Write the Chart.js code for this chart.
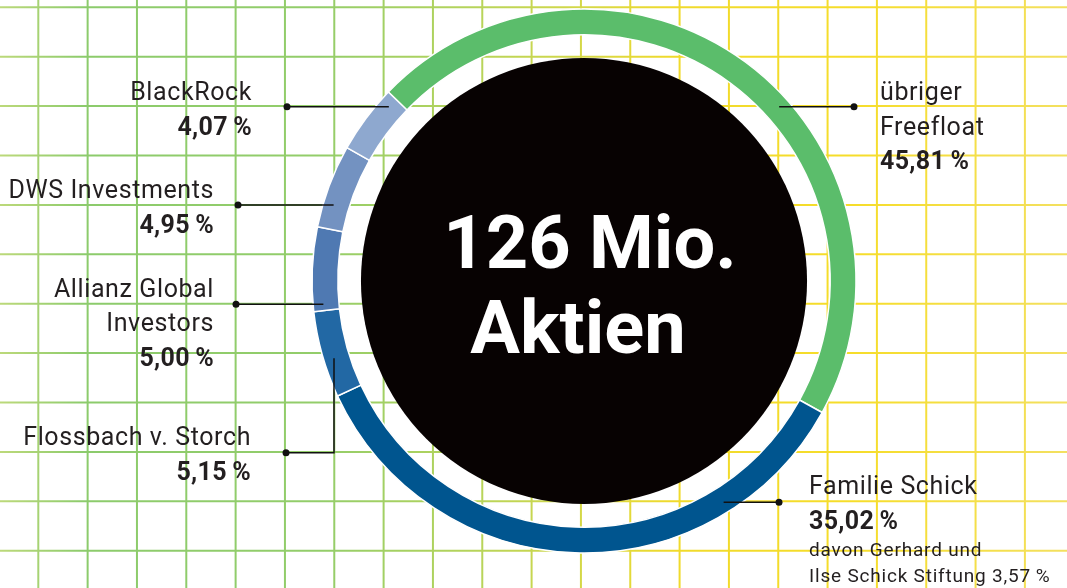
<!DOCTYPE html>
<html lang="de">
<head>
<meta charset="UTF-8">
<title>Aktionärsstruktur</title>
<script src="https://cdn.jsdelivr.net/npm/chart.js"></script>
<style>
    html, body { margin: 0; padding: 0; background: #fff; overflow: hidden; }
    #wrap { width: 1067px; height: 588px; }
</style>
</head>
<body>
<div id="wrap"><canvas id="shareChart" width="1067" height="588"></canvas></div>
<script>
// data
const holders = ['übriger Freefloat', 'Familie Schick', 'Flossbach v. Storch', 'Allianz Global Investors', 'DWS Investments', 'BlackRock'];
const shares = [45.81, 35.02, 5.15, 5.00, 4.95, 4.07];
const holderLines = [['übriger', 'Freefloat'], ['Familie Schick'], ['Flossbach v. Storch'], ['Allianz Global', 'Investors'], ['DWS Investments'], ['BlackRock']];
const centerLines = ['126 Mio.', 'Aktien'];
const foundationShare = 3.57;
const noteLines = ['davon Gerhard und', 'Ilse Schick Stiftung'];

// styles / layout
const ringColors = ['#5bbd6b', '#00558f', '#2268a4', '#4f79b2', '#7392c1', '#8ea8cf'];
const inkColor = '#231f20';
const labelLayout = [
    { align: 'left',  x: 880, y: 100,   dotX: 854, dotY: 106.7 },
    { align: 'left',  x: 809, y: 494.3, dotX: 779, dotY: 502.3 },
    { align: 'right', x: 251, y: 445,   dotX: 286, dotY: 452.7, elbowX: 334 },
    { align: 'right', x: 214, y: 296.7, dotX: 236, dotY: 304.3 },
    { align: 'right', x: 214, y: 198.3, dotX: 238, dotY: 205 },
    { align: 'right', x: 252, y: 100,   dotX: 287, dotY: 106.7 }
];
const LINE_H = 34.5;

function fmtPct(v) {
    return v.toFixed(2).replace('.', ',') + '\u2009%';
}

const gridPlugin = {
    id: 'gridPaper',
    beforeDraw(chart) {
        const ctx = chart.ctx;
        const w = chart.width, h = chart.height;
        const grad = ctx.createLinearGradient(0, 0, w, 0);
        grad.addColorStop(0, '#bcd97a');
        grad.addColorStop(0.08, '#8ccb6c');
        grad.addColorStop(0.3, '#93cd6a');
        grad.addColorStop(0.45, '#b8d45a');
        grad.addColorStop(0.55, '#d6d846');
        grad.addColorStop(0.63, '#f0da2c');
        grad.addColorStop(0.8, '#f6dd2a');
        grad.addColorStop(1, '#f3e060');
        ctx.save();
        ctx.fillStyle = '#fff';
        ctx.fillRect(0, 0, w, h);
        ctx.strokeStyle = grad;
        ctx.lineWidth = 2;
        ctx.beginPath();
        for (let x = 38.3; x < w; x += 49.33) {
            ctx.moveTo(x, 0);
            ctx.lineTo(x, h);
        }
        for (let y = 7.3; y < h; y += 49.4) {
            ctx.moveTo(0, y);
            ctx.lineTo(w, y);
        }
        ctx.stroke();
        ctx.restore();
    }
};

const annotatePlugin = {
    id: 'annotate',
    afterDatasetsDraw(chart) {
        const ctx = chart.ctx;
        const meta = chart.getDatasetMeta(0);
        const arc = meta.data[0];
        const cx = arc.x, cy = arc.y;
        const outer = arc.outerRadius, inner = arc.innerRadius;
        const reach = inner + (outer - inner) * 0.6;

        ctx.save();
        // black core
        ctx.fillStyle = '#070202';
        ctx.beginPath();
        ctx.arc(cx, cy, outer * 0.82, 0, Math.PI * 2);
        ctx.fill();

        // center text
        ctx.fillStyle = '#fff';
        ctx.textAlign = 'center';
        ctx.textBaseline = 'alphabetic';
        ctx.font = 'bold 74px Roboto, "DejaVu Sans", sans-serif';
        ctx.fillText(centerLines[0], cx + 6, 268);
        ctx.fillText(centerLines[1], cx - 6, 353);

        // leaders
        ctx.strokeStyle = '#111';
        ctx.fillStyle = '#111';
        ctx.lineWidth = 1.5;
        labelLayout.forEach((l, i) => {
            ctx.beginPath();
            ctx.moveTo(l.dotX, l.dotY);
            if (l.elbowX !== undefined) {
                const dx = l.elbowX - cx;
                const endY = cy + Math.sqrt(reach * reach - dx * dx);
                ctx.lineTo(l.elbowX, l.dotY);
                ctx.lineTo(l.elbowX, endY);
            } else {
                const dy = l.dotY - cy;
                const off = Math.sqrt(reach * reach - dy * dy);
                ctx.lineTo(l.align === 'left' ? cx + off : cx - off, l.dotY);
            }
            ctx.stroke();
            ctx.beginPath();
            ctx.arc(l.dotX, l.dotY, 3.5, 0, Math.PI * 2);
            ctx.fill();
        });

        // labels
        ctx.fillStyle = inkColor;
        labelLayout.forEach((l, i) => {
            ctx.textAlign = l.align;
            let y = l.y;
            ctx.font = '25px Roboto, "DejaVu Sans", sans-serif';
            ctx.letterSpacing = '0.6px';
            holderLines[i].forEach(t => {
                ctx.fillText(t, l.x, y);
                y += LINE_H;
            });
            ctx.font = 'bold 25px Roboto, "DejaVu Sans", sans-serif';
            ctx.letterSpacing = '0.3px';
            ctx.fillText(fmtPct(shares[i]), l.x, y);
            if (i === 1) {
                ctx.font = '19px Roboto, "DejaVu Sans", sans-serif';
                ctx.letterSpacing = '0.8px';
                y += 27;
                ctx.fillText(noteLines[0], l.x, y);
                y += 25.7;
                ctx.fillText(noteLines[1] + ' ' + fmtPct(foundationShare), l.x, y);
            }
        });
        ctx.restore();
    }
};

new Chart(document.getElementById('shareChart'), {
    type: 'doughnut',
    data: {
        labels: holders,
        datasets: [{
            data: shares,
            backgroundColor: ringColors,
            borderColor: '#fff',
            borderWidth: 1.5
        }]
    },
    options: {
        responsive: false,
        animation: false,
        rotation: -46,
        radius: 272,
        cutout: '90.5%',
        layout: { padding: { left: 312, right: 211, top: 9, bottom: 35 } },
        plugins: {
            legend: { display: false },
            tooltip: { enabled: false }
        }
    },
    plugins: [gridPlugin, annotatePlugin]
});
</script>
</body>
</html>
